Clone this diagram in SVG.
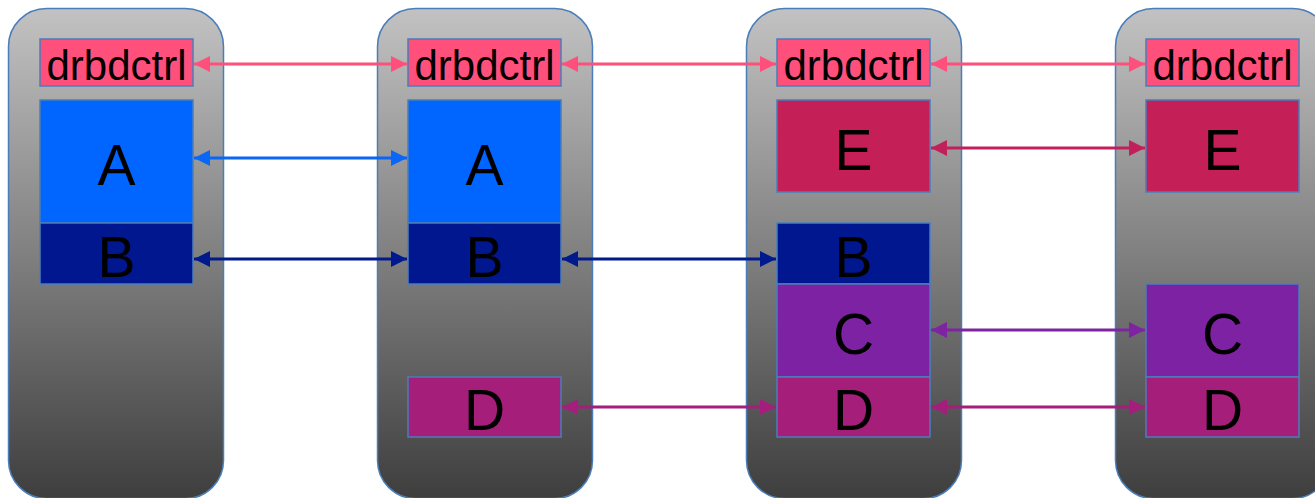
<svg xmlns="http://www.w3.org/2000/svg" width="1315" height="498" viewBox="0 0 1315 498">
  <defs>
    <linearGradient id="colGrad" x1="0" y1="0" x2="0" y2="1">
      <stop offset="0" stop-color="#c2c2c2"/>
      <stop offset="1" stop-color="#3e3e3e"/>
    </linearGradient>
    <marker id="mPink" viewBox="0 0 16 16" refX="16" refY="8" markerWidth="16" markerHeight="16" markerUnits="userSpaceOnUse" orient="auto-start-reverse"><path d="M0,0 L16,8 L0,16 z" fill="#ff4f7b"/></marker>
    <marker id="mBlue" viewBox="0 0 16 16" refX="16" refY="8" markerWidth="16" markerHeight="16" markerUnits="userSpaceOnUse" orient="auto-start-reverse"><path d="M0,0 L16,8 L0,16 z" fill="#0a66f5"/></marker>
    <marker id="mNavy" viewBox="0 0 16 16" refX="16" refY="8" markerWidth="16" markerHeight="16" markerUnits="userSpaceOnUse" orient="auto-start-reverse"><path d="M0,0 L16,8 L0,16 z" fill="#00198c"/></marker>
    <marker id="mCrimson" viewBox="0 0 16 16" refX="16" refY="8" markerWidth="16" markerHeight="16" markerUnits="userSpaceOnUse" orient="auto-start-reverse"><path d="M0,0 L16,8 L0,16 z" fill="#c2205a"/></marker>
    <marker id="mPurple" viewBox="0 0 16 16" refX="16" refY="8" markerWidth="16" markerHeight="16" markerUnits="userSpaceOnUse" orient="auto-start-reverse"><path d="M0,0 L16,8 L0,16 z" fill="#7e24a3"/></marker>
    <marker id="mMagenta" viewBox="0 0 16 16" refX="16" refY="8" markerWidth="16" markerHeight="16" markerUnits="userSpaceOnUse" orient="auto-start-reverse"><path d="M0,0 L16,8 L0,16 z" fill="#a41f7b"/></marker>
  </defs>
  <style>
    .col { fill: url(#colGrad); stroke: #4a7ebb; stroke-width: 1.5; }
    .box { stroke: #4a7ebb; stroke-width: 1.5; }
    .ctrl { fill: #ff4f7b; }
    .a { fill: #0066ff; }
    .b { fill: #00178f; }
    .c { fill: #7e22a4; }
    .d { fill: #a51f7a; }
    .e { fill: #c41f57; }
    .lbl { font-family: "Liberation Sans", Arial, sans-serif; fill: #000; text-anchor: middle; }
    .small { font-size: 42px; }
    .big { font-size: 57px; }
    .link { stroke-width: 3; fill: none; }
  </style>

  <!-- hosts -->
  <rect class="col" x="8.5" y="8.5" width="215" height="490" rx="38"/>
  <rect class="col" x="377.5" y="8.5" width="215" height="490" rx="38"/>
  <rect class="col" x="746.5" y="8.5" width="215" height="490" rx="38"/>
  <rect class="col" x="1115.5" y="8.5" width="215" height="490" rx="38"/>

  <!-- host 1 -->
  <g id="h1-drbdctrl"><rect class="box ctrl" x="40" y="39" width="153" height="47"/><text class="lbl small" x="116.5" y="80">drbdctrl</text></g>
  <g id="h1-A"><rect class="box a" x="40" y="100" width="153" height="123"/><text class="lbl big" x="116.5" y="185">A</text></g>
  <g id="h1-B"><rect class="box b" x="40" y="223" width="153" height="61"/><text class="lbl big" x="116.5" y="277">B</text></g>

  <!-- host 2 -->
  <g id="h2-drbdctrl"><rect class="box ctrl" x="408" y="39" width="153" height="47"/><text class="lbl small" x="484.5" y="80">drbdctrl</text></g>
  <g id="h2-A"><rect class="box a" x="408" y="100" width="153" height="123"/><text class="lbl big" x="484.5" y="185">A</text></g>
  <g id="h2-B"><rect class="box b" x="408" y="223" width="153" height="61"/><text class="lbl big" x="484.5" y="277">B</text></g>
  <g id="h2-D"><rect class="box d" x="408" y="377" width="153" height="60"/><text class="lbl big" x="484.5" y="430">D</text></g>

  <!-- host 3 -->
  <g id="h3-drbdctrl"><rect class="box ctrl" x="777" y="39" width="153" height="47"/><text class="lbl small" x="853.5" y="80">drbdctrl</text></g>
  <g id="h3-E"><rect class="box e" x="777" y="100" width="153" height="92"/><text class="lbl big" x="853.5" y="170">E</text></g>
  <g id="h3-B"><rect class="box b" x="777" y="223" width="153" height="61"/><text class="lbl big" x="853.5" y="277">B</text></g>
  <g id="h3-C"><rect class="box c" x="777" y="284" width="153" height="93"/><text class="lbl big" x="853.5" y="354">C</text></g>
  <g id="h3-D"><rect class="box d" x="777" y="377" width="153" height="60"/><text class="lbl big" x="853.5" y="430">D</text></g>

  <!-- host 4 -->
  <g id="h4-drbdctrl"><rect class="box ctrl" x="1146" y="39" width="153" height="47"/><text class="lbl small" x="1222.5" y="80">drbdctrl</text></g>
  <g id="h4-E"><rect class="box e" x="1146" y="100" width="153" height="92"/><text class="lbl big" x="1222.5" y="170">E</text></g>
  <g id="h4-C"><rect class="box c" x="1146" y="284" width="153" height="93"/><text class="lbl big" x="1222.5" y="354">C</text></g>
  <g id="h4-D"><rect class="box d" x="1146" y="377" width="153" height="60"/><text class="lbl big" x="1222.5" y="430">D</text></g>

  <!-- replication links -->
  <g id="links" class="link">
    <line x1="194" y1="64" x2="407" y2="64" stroke="#ff4f7b" marker-start="url(#mPink)" marker-end="url(#mPink)"/>
    <line x1="562" y1="64" x2="776" y2="64" stroke="#ff4f7b" marker-start="url(#mPink)" marker-end="url(#mPink)"/>
    <line x1="931" y1="64" x2="1145" y2="64" stroke="#ff4f7b" marker-start="url(#mPink)" marker-end="url(#mPink)"/>
    <line x1="194" y1="158" x2="407" y2="158" stroke="#0a66f5" marker-start="url(#mBlue)" marker-end="url(#mBlue)"/>
    <line x1="194" y1="259" x2="407" y2="259" stroke="#00198c" marker-start="url(#mNavy)" marker-end="url(#mNavy)"/>
    <line x1="562" y1="259" x2="776" y2="259" stroke="#00198c" marker-start="url(#mNavy)" marker-end="url(#mNavy)"/>
    <line x1="931" y1="148" x2="1145" y2="148" stroke="#c2205a" marker-start="url(#mCrimson)" marker-end="url(#mCrimson)"/>
    <line x1="931" y1="330" x2="1145" y2="330" stroke="#7e24a3" marker-start="url(#mPurple)" marker-end="url(#mPurple)"/>
    <line x1="562" y1="407" x2="776" y2="407" stroke="#a41f7b" marker-start="url(#mMagenta)" marker-end="url(#mMagenta)"/>
    <line x1="931" y1="407" x2="1145" y2="407" stroke="#a41f7b" marker-start="url(#mMagenta)" marker-end="url(#mMagenta)"/>
  </g>
</svg>
